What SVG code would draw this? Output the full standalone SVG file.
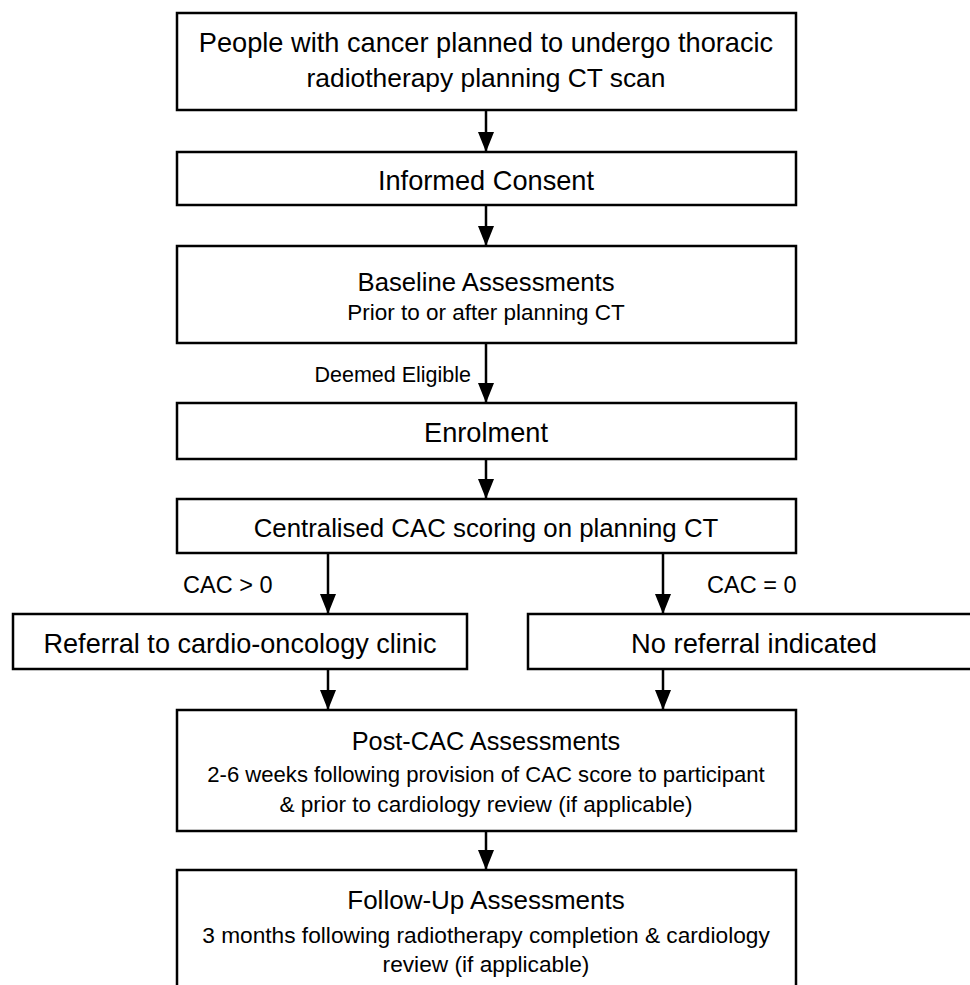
<svg xmlns="http://www.w3.org/2000/svg" width="970" height="985" viewBox="0 0 970 985">
  <style>
    .box { fill: #ffffff; stroke: #000000; stroke-width: 2.5; }
    .t { font-family: "Liberation Sans", Arial, sans-serif; fill: #000000; text-anchor: middle; }
    .main { font-size: 26.5px; }
    .sub { font-size: 22.5px; }
    .lbl { font-family: "Liberation Sans", Arial, sans-serif; fill: #000000; }
    .conn { stroke: #000000; stroke-width: 2.5; fill: none; marker-end: url(#arrow); }
  </style>
  <defs>
    <marker id="arrow" viewBox="0 0 20 16" refX="20" refY="8" markerWidth="20" markerHeight="16" markerUnits="userSpaceOnUse" orient="auto">
      <path d="M0,0 L20,8 L0,16 z" fill="#000000"/>
    </marker>
  </defs>
  <rect width="970" height="985" fill="#ffffff"/>

  <g id="connectors">
    <line class="conn" x1="486" y1="110" x2="486" y2="152"/>
    <line class="conn" x1="486" y1="205" x2="486" y2="246"/>
    <line class="conn" x1="486" y1="343" x2="486" y2="403"/>
    <line class="conn" x1="486" y1="459" x2="486" y2="499"/>
    <line class="conn" x1="328" y1="553" x2="328" y2="614"/>
    <line class="conn" x1="663" y1="553" x2="663" y2="614"/>
    <line class="conn" x1="328" y1="669" x2="328" y2="710"/>
    <line class="conn" x1="663" y1="669" x2="663" y2="710"/>
    <line class="conn" x1="486" y1="831" x2="486" y2="870"/>
    <text class="lbl" x="471" y="382" font-size="21.5" text-anchor="end">Deemed Eligible</text>
    <text class="lbl" x="183" y="593" font-size="23.5">CAC &gt; 0</text>
    <text class="lbl" x="707" y="593" font-size="23.5">CAC = 0</text>
  </g>

  <g id="n1">
    <rect class="box" x="177" y="13" width="619" height="97"/>
    <text class="t" x="486" y="52" font-size="27.2">People with cancer planned to undergo thoracic</text>
    <text class="t" x="486" y="87" font-size="26.4">radiotherapy planning CT scan</text>
  </g>
  <g id="n2">
    <rect class="box" x="177" y="152" width="619" height="53"/>
    <text class="t" x="486" y="190" font-size="27.2">Informed Consent</text>
  </g>
  <g id="n3">
    <rect class="box" x="177" y="246" width="619" height="97"/>
    <text class="t" x="486" y="291" font-size="25.7">Baseline Assessments</text>
    <text class="t sub" x="486" y="320" font-size="22">Prior to or after planning CT</text>
  </g>
  <g id="n4">
    <rect class="box" x="177" y="403" width="619" height="56"/>
    <text class="t" x="486" y="442" font-size="27.2">Enrolment</text>
  </g>
  <g id="n5">
    <rect class="box" x="177" y="499" width="619" height="54"/>
    <text class="t" x="486" y="537" font-size="25.8">Centralised CAC scoring on planning CT</text>
  </g>
  <g id="n6">
    <rect class="box" x="13" y="614" width="454" height="55"/>
    <text class="t" x="240" y="653" font-size="27.1">Referral to cardio-oncology clinic</text>
  </g>
  <g id="n7">
    <rect class="box" x="528" y="614" width="454" height="55"/>
    <text class="t" x="754" y="653" font-size="27.3">No referral indicated</text>
  </g>
  <g id="n8">
    <rect class="box" x="177" y="710" width="619" height="121"/>
    <text class="t" x="486" y="750" font-size="25.3">Post-CAC Assessments</text>
    <text class="t" x="486" y="782" font-size="22.1">2-6 weeks following provision of CAC score to participant</text>
    <text class="t" x="486" y="812" font-size="22.6">&amp; prior to cardiology review (if applicable)</text>
  </g>
  <g id="n9">
    <rect class="box" x="177" y="870" width="619" height="124"/>
    <text class="t" x="486" y="909" font-size="26">Follow-Up Assessments</text>
    <text class="t" x="486" y="943" font-size="22.7">3 months following radiotherapy completion &amp; cardiology</text>
    <text class="t" x="486" y="972" font-size="22.7">review (if applicable)</text>
  </g>
</svg>
